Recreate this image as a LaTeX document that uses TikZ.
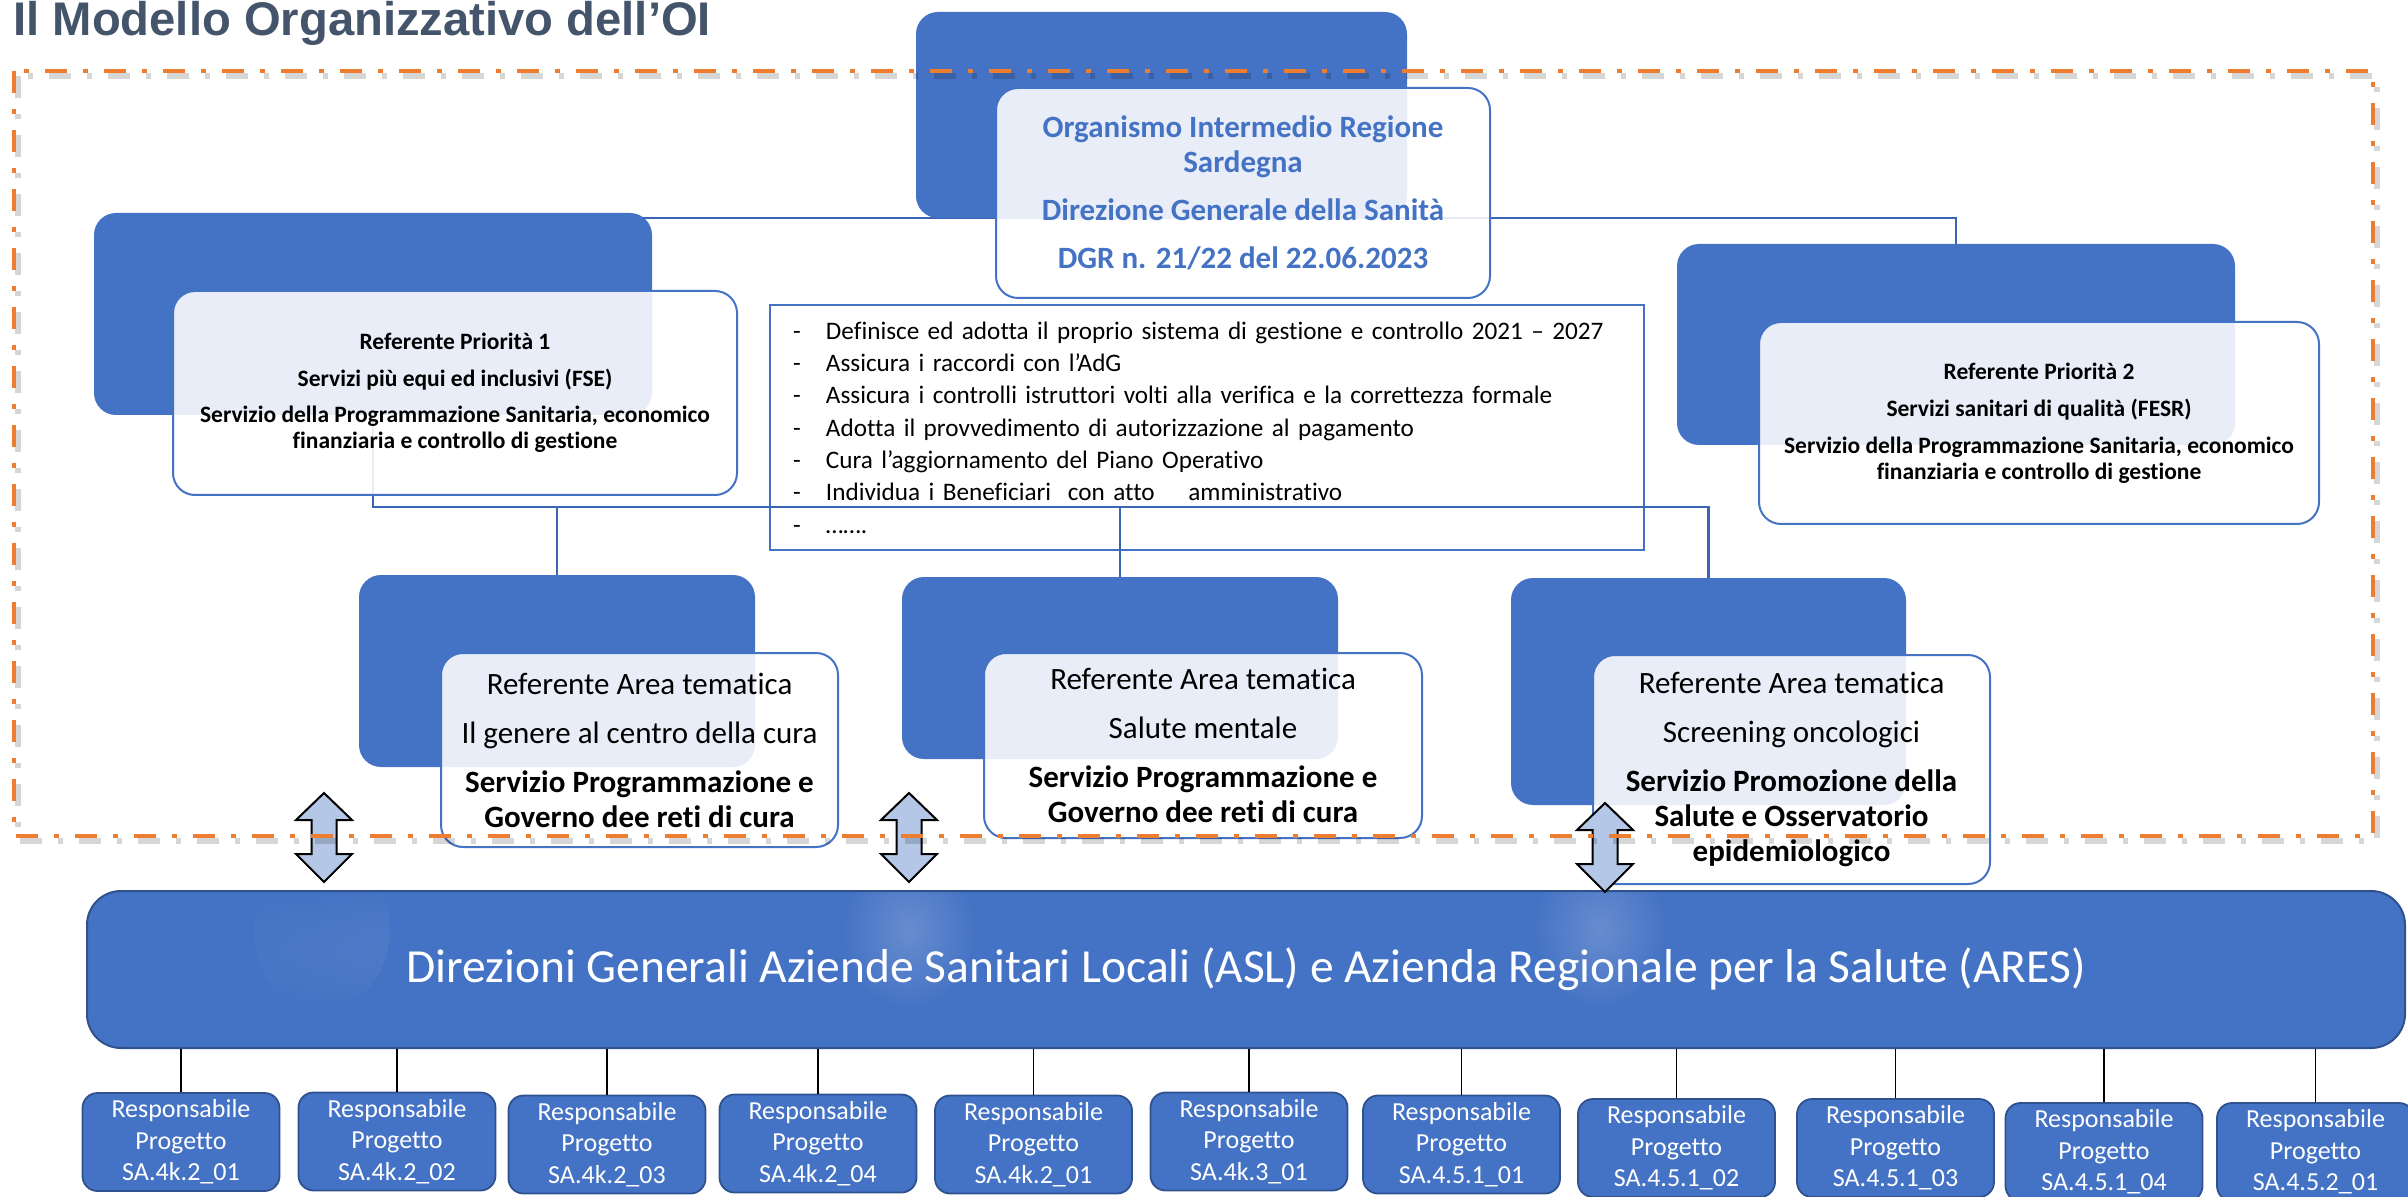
\documentclass[tikz,border=0pt]{standalone}
\usepackage{fontspec}
\setmainfont{Carlito}[Ligatures=NoCommon]
\newfontfamily\titlefont{Liberation Sans}
\pgfdeclarelayer{bg}
\pgfsetlayers{bg,main}
\definecolor{oiblue}{HTML}{4472C4}
\definecolor{oidark}{HTML}{2F528F}
\definecolor{connblue}{HTML}{3A65B4}
\definecolor{arrowfill}{HTML}{B4C7E7}
\definecolor{frameorange}{HTML}{ED7D31}
\definecolor{titlecol}{HTML}{44546A}
\begin{document}
\begin{tikzpicture}[x=0.5pt,y=-0.5pt,
  backbox/.style={fill=oiblue, draw=none, rounded corners=11pt, inner sep=0pt, outer sep=0pt},
  frontbox/.style={fill=white, fill opacity=0.88, text opacity=1, draw=oiblue, line width=1pt, rounded corners=11pt, inner sep=0pt, outer sep=0pt, align=center},
  conn/.style={draw=connblue, line width=1.2pt},
  ptext/.style={font=\fontsize{11.75pt}{13pt}\selectfont\bfseries},
  areatext/.style={font=\fontsize{15.5pt}{17.5pt}\selectfont},
  rpbox/.style={fill=oiblue, draw=oidark, line width=0.9pt, rounded corners=7.5pt, text=white, align=center, inner sep=0pt, minimum width=98.5pt, minimum height=49pt, font=\fontsize{13pt}{15.75pt}\selectfont},
  leader/.style={draw=black, line width=0.8pt},
  dblarrow/.style={fill=arrowfill, draw=black, line width=1pt, line join=miter},
  orangeframe/.style={draw=frameorange, line width=1.85pt, dash pattern=on 11pt off 8pt on 2.5pt off 8pt},
  frameshadow/.style={draw=black, draw opacity=0.16, line width=3pt, dash pattern=on 11pt off 8pt on 2.5pt off 8pt},
  glow/.style={inner color=white!19!oiblue, outer color=oiblue},
]
\useasboundingbox (0,0) rectangle (2408,1197);

% title
\node[anchor=base west, inner sep=0pt, text=titlecol, font=\fontsize{23.6pt}{28pt}\selectfont\titlefont\bfseries] (title) at (13,36) {Il Modello Organizzativo dell’OI};

% OI
\node[backbox, minimum width=245.5pt, minimum height=103pt] (oib) at (1161.5,115) {};
\node[frontbox, minimum width=247pt, minimum height=105pt, text=oiblue, font=\fontsize{15.5pt}{17.5pt}\selectfont\bfseries] (oif) at (1243,193)
  {Organismo Intermedio Regione\\Sardegna\\[6.5pt]Direzione Generale della Sanità\\[6.5pt]DGR n. 21/22 del 22.06.2023};

% Priority 1
\node[backbox, minimum width=279pt, minimum height=101pt] (p1b) at (373,314) {};
\node[frontbox, ptext, minimum width=282pt, minimum height=102pt] (p1f) at (455,393)
  {Referente Priorità 1\\[5.5pt]Servizi più equi ed inclusivi (FSE)\\[5pt]Servizio della Programmazione Sanitaria, economico\\finanziaria e controllo di gestione};

% Priority 2
\node[backbox, minimum width=279pt, minimum height=100.5pt] (p2b) at (1956,344.5) {};
\node[frontbox, ptext, minimum width=280pt, minimum height=101pt] (p2f) at (2039,423)
  {Referente Priorità 2\\[5.5pt]Servizi sanitari di qualità (FESR)\\[5.5pt]Servizio della Programmazione Sanitaria, economico\\finanziaria e controllo di gestione};

% Areas
\node[backbox, minimum width=198pt, minimum height=96pt] (a1b) at (557,671) {};
\node[frontbox, areatext, minimum width=198.5pt, minimum height=97pt] (a1f) at (639.5,750)
  {Referente Area tematica\\[7pt]Il genere al centro della cura\\[7pt]\textbf{Servizio Programmazione e}\\\textbf{Governo dee reti di cura}};
\node[backbox, minimum width=218pt, minimum height=91pt] (a2b) at (1120,668) {};
\node[frontbox, areatext, minimum width=219pt, minimum height=92.5pt] (a2f) at (1203,745.5)
  {Referente Area tematica\\[7pt]Salute mentale\\[7pt]\textbf{Servizio Programmazione e}\\\textbf{Governo dee reti di cura}};
\node[backbox, minimum width=197.5pt, minimum height=113.5pt] (a3b) at (1708.5,691.5) {};
\node[frontbox, areatext, minimum width=198.5pt, minimum height=114.5pt] (a3f) at (1791.5,769.5)
  {Referente Area tematica\\[7pt]Screening oncologici\\[7pt]\textbf{Servizio Promozione della}\\\textbf{Salute e Osservatorio}\\\textbf{epidemiologico}};

% background layer: task box and connectors
\begin{pgfonlayer}{bg}
\node[draw=oiblue, line width=0.9pt, fill=white, minimum width=437pt, minimum height=122.5pt, inner xsep=11.5pt, inner ysep=0pt, text width=414pt, align=left, font=\fontsize{12.6pt}{16.15pt}\selectfont] (tasks) at (1207,427.5)
  {\makebox[16.5pt][l]{-}Definisce ed adotta il proprio sistema di gestione e controllo 2021 – 2027\\
   \makebox[16.5pt][l]{-}Assicura i raccordi con l’AdG\\
   \makebox[16.5pt][l]{-}Assicura i controlli istruttori volti alla verifica e la correttezza formale\\
   \makebox[16.5pt][l]{-}Adotta il provvedimento di autorizzazione al pagamento\\
   \makebox[16.5pt][l]{-}Cura l’aggiornamento del Piano Operativo\\
   \makebox[16.5pt][l]{-}Individua i Beneficiari\ \ con atto\ \ \ \ amministrativo\\
   \makebox[16.5pt][l]{-}…….};
\draw[conn] (p1b.north) |- (oib.south) -| (p2b.north);
\coordinate (bus) at (373,507);
\draw[conn] (p1b.south) -- (bus) -| (a3b.north);
\draw[conn] (bus -| a1b.north) -- (a1b.north);
\draw[conn] (bus -| a2b.north) -- (a2b.north);
\end{pgfonlayer}

% big box (soft glows painted under its text)
\node[fill=oiblue, draw=oidark, line width=1pt, rounded corners=17pt, minimum width=1159pt, minimum height=78.5pt, inner sep=0pt, text=white, font=\fontsize{23.75pt}{28pt}\selectfont,
  path picture={
    \foreach \gs in {235,822,1513}{
      \shade[glow] ([shift={(\gs,39)}]path picture bounding box.north west) ellipse [x radius=34pt, y radius=40pt];
    }
  }] (dg) at (1246,969.5)
  {Direzioni Generali Aziende Sanitari Locali (ASL) e Azienda Regionale per la Salute (ARES)};

% project boxes
\foreach \i/\cx/\cy/\lab in {1/181/1142/SA.4k.2\_01, 2/397/1141.5/SA.4k.2\_02, 3/607/1144.5/SA.4k.2\_03, 4/818/1143.5/SA.4k.2\_04, 5/1033.5/1144.5/SA.4k.2\_01, 6/1249/1141.5/SA.4k.3\_01, 7/1461.5/1144.5/SA.4.5.1\_01, 8/1676.5/1148/SA.4.5.1\_02, 9/1895.5/1148/SA.4.5.1\_03, 10/2104/1152/SA.4.5.1\_04, 11/2315.5/1152/SA.4.5.2\_01}{
  \node[rpbox] (rp\i) at (\cx,\cy) {Responsabile\\Progetto\\\lab};
  \draw[leader] (rp\i.north |- dg.south) -- (rp\i.north);
}

% double arrows
\foreach \cx/\ty/\by in {324/793/882, 909/793/882, 1605/803/892}{
  \draw[dblarrow] (\cx,\ty) -- ++(28,27) -- ++(-15.5,0) -- (\cx+12.5,\by-28) -- ++(15.5,0) -- (\cx,\by) -- ++(-28,-28) -- ++(15.5,0) -- (\cx-12.5,\ty+27) -- ++(-15.5,0) -- cycle;
}

% orange frame
\draw[frameshadow] (18,76) rectangle (2377,841);
\draw[orangeframe] (14,71) rectangle (2373,836);
\end{tikzpicture}
\end{document}
